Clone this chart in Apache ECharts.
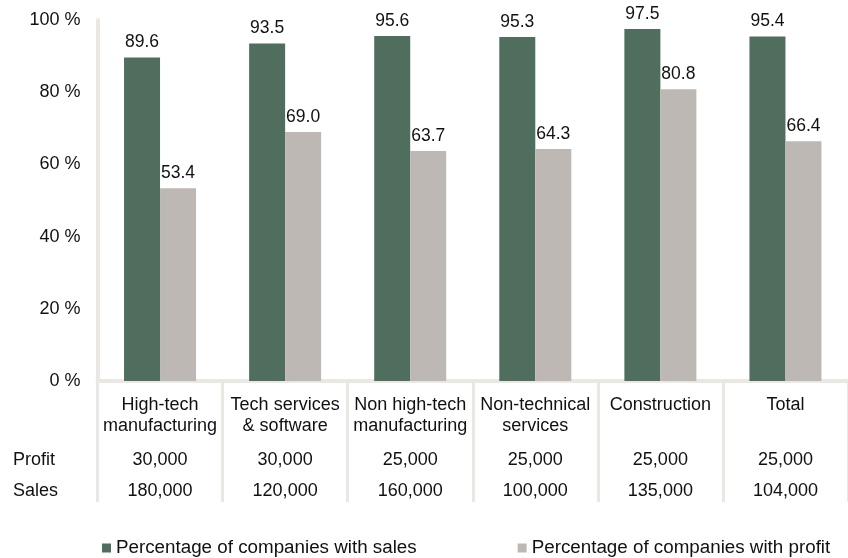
<!DOCTYPE html>
<html>
<head>
<meta charset="utf-8">
<style>
  html, body { margin: 0; padding: 0; background: #ffffff; }
  #chart { width: 848px; height: 558px; }
</style>
<script src="https://cdn.jsdelivr.net/npm/echarts@6/dist/echarts.min.js"></script>
</head>
<body>
<div id="chart"></div>
<script>
// Sector categories along the x axis
const categories = [
  'High-tech\nmanufacturing',
  'Tech services\n& software',
  'Non high-tech\nmanufacturing',
  'Non-technical\nservices',
  'Construction',
  'Total'
];

// Share of companies (%) per sector
const withSales = [89.6, 93.5, 95.6, 95.3, 97.5, 95.4];
const withProfit = [53.4, 69.0, 63.7, 64.3, 80.8, 66.4];

// Table rows printed under each sector
const profitRow = [30000, 30000, 25000, 25000, 25000, 25000];
const salesRow = [180000, 120000, 160000, 100000, 135000, 104000];
const rowNames = ['Profit', 'Sales'];

const seriesNames = ['Percentage of companies with sales', 'Percentage of companies with profit'];
const yTicks = { min: 0, max: 100, interval: 20 };

const FONT = '"Liberation Sans", Arial, Helvetica, sans-serif';
const TEXT = '#111111';
const RULE = '#ebe7e3';
const fmt = v => v.toLocaleString('en-US');

const chart = echarts.init(document.getElementById('chart'), null, { renderer: 'canvas' });

const tableAxis = (data, offset) => ({
  type: 'category',
  gridIndex: 0,
  position: 'bottom',
  offset: offset,
  data: data.map(fmt),
  axisLine: { show: false },
  axisTick: { show: false },
  splitLine: { show: false },
  axisLabel: {
    interval: 0, margin: 0,
    fontFamily: FONT, fontSize: 18, lineHeight: 21, color: TEXT
  }
});

chart.setOption({
  animation: false,
  textStyle: { fontFamily: FONT },
  grid: { left: 97.5, right: -3, top: 20, bottom: 177, containLabel: false },
  legend: {
    data: seriesNames,
    left: 102,
    top: 538,
    padding: 0,
    icon: 'rect',
    itemWidth: 9,
    itemHeight: 9,
    itemGap: 101,
    itemTextGap: 4.5,
    textStyle: { fontFamily: FONT, fontSize: 18.8, lineHeight: 20, color: TEXT }
  },
  xAxis: [
    {
      type: 'category',
      data: categories,
      boundaryGap: true,
      axisLine: { show: true, lineStyle: { color: RULE, width: 4 } },
      axisTick: { show: true, interval: 0, length: 121, lineStyle: { color: RULE, width: 3 } },
      axisLabel: {
        interval: 0, margin: 13.5,
        fontFamily: FONT, fontSize: 18, lineHeight: 21, color: TEXT
      },
      splitLine: { show: false }
    },
    tableAxis(profitRow, 69),
    tableAxis(salesRow, 100)
  ],
  yAxis: {
    type: 'value',
    min: yTicks.min,
    max: yTicks.max,
    interval: yTicks.interval,
    axisLine: { show: true, lineStyle: { color: RULE, width: 4 } },
    axisTick: { show: false },
    splitLine: { show: false },
    axisLabel: {
      margin: 17,
      fontFamily: FONT, fontSize: 18, color: TEXT,
      formatter: v => v + ' %'
    }
  },
  graphic: rowNames.map((name, i) => ({
    type: 'text',
    left: 13,
    top: [450, 481][i],
    style: { text: name, font: '18px ' + FONT, fill: TEXT, lineHeight: 21 }
  })),
  series: [
    {
      name: seriesNames[0],
      type: 'bar',
      xAxisIndex: 0,
      data: withSales,
      barWidth: 36,
      barGap: '0%',
      itemStyle: { color: '#4f6e5e' },
      label: {
        show: true, position: 'top', distance: 6,
        fontFamily: FONT, fontSize: 17.5, color: TEXT,
        formatter: p => p.value.toFixed(1)
      }
    },
    {
      name: seriesNames[1],
      type: 'bar',
      xAxisIndex: 0,
      data: withProfit,
      barWidth: 36,
      barGap: '0%',
      itemStyle: { color: '#bdb8b4' },
      label: {
        show: true, position: 'top', distance: 6,
        fontFamily: FONT, fontSize: 17.5, color: TEXT,
        formatter: p => p.value.toFixed(1)
      }
    }
  ]
});
</script>
</body>
</html>
